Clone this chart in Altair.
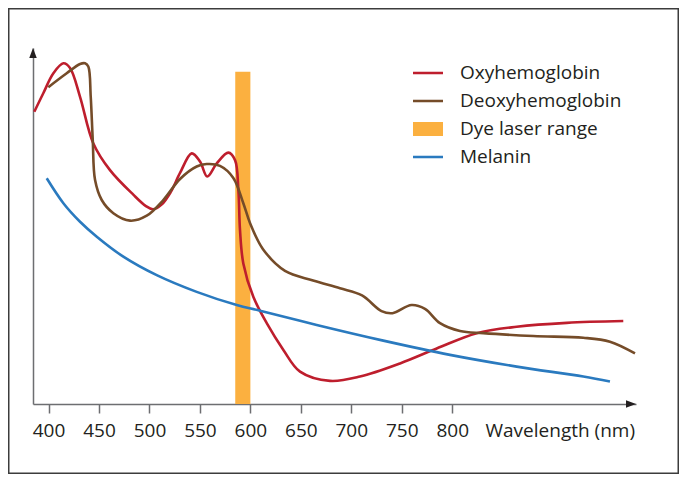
import altair as alt
import pandas as pd

# ---- data (relative absorbance, 0-100) ----
oxy_wl = [385.9, 394.8, 404.8, 414.7, 421.3, 431.2, 444.4, 460.9, 484.0, 496.5, 503.5,
          512.0, 521.0, 530.3, 541.9, 550.1, 557.3, 566.7, 578.2, 584.8, 588.1, 589.7,
          593.0, 602.9, 616.2, 632.7, 649.2, 678.9, 708.6, 748.3, 784.6, 824.3, 863.9,
          913.5, 969.5]
oxy_val = [82.1, 87.3, 92.9, 95.7, 94.4, 86.3, 73.2, 65.7, 58.8, 55.6, 54.7,
           56.0, 59.5, 64.9, 70.4, 68.1, 63.9, 67.6, 70.6, 68.5, 60.1, 48.9,
           39.5, 30.1, 22.7, 15.2, 9.1, 6.5, 7.7, 11.4, 15.6, 19.9, 21.7,
           22.8, 23.3]

deoxy_wl = [399.8, 418.0, 431.2, 436.2, 439.4, 441.8, 443.8, 446.1, 452.7, 464.2, 480.8,
            497.3, 513.7, 530.3, 546.8, 556.7, 569.9, 583.1, 593.0, 599.7, 612.5, 634.3,
            662.1, 688.8, 710.6, 729.9, 740.8, 759.7, 773.0, 787.9, 807.7, 830.8, 880.4,
            929.9, 956.3, 981.1]
deoxy_val = [89.0, 92.9, 95.5, 95.7, 94.8, 86.3, 74.2, 62.9, 57.3, 53.6, 51.5,
             52.9, 57.3, 63.2, 66.7, 67.4, 66.9, 63.5, 56.4, 50.8, 43.5, 37.4,
             34.7, 32.5, 30.5, 26.1, 25.5, 27.8, 26.7, 22.7, 20.5, 19.9, 19.1,
             18.6, 17.5, 14.2]

melanin_wl = [398.2, 414.7, 431.2, 447.8, 474.1, 507.2, 546.8, 586.5, 609.6, 665.7,
              731.7, 797.8, 863.9, 929.9, 956.3]
melanin_val = [63.4, 56.4, 51.2, 47.0, 41.4, 36.2, 31.5, 27.8, 26.2, 22.2,
               17.8, 13.8, 10.5, 7.7, 6.3]

dye_start = [585]
dye_end = [600]
dye_top = [93.3]

series_names = ["Oxyhemoglobin", "Deoxyhemoglobin", "Dye laser range", "Melanin"]
series_colors = ["#be1e2d", "#754c29", "#fbb040", "#2a7abf"]
x_ticks = [400, 450, 500, 550, 600, 650, 700, 750, 800]
x_title = "Wavelength (nm)"

FONT = "Open Sans"
AXIS_GRAY = "#6d6e71"
TEXT = "#231f20"
W, H = 603, 356

lines_df = pd.concat([
    pd.DataFrame({"wl": oxy_wl, "val": oxy_val, "series": series_names[0], "ord": 3}),
    pd.DataFrame({"wl": deoxy_wl, "val": deoxy_val, "series": series_names[1], "ord": 2}),
    pd.DataFrame({"wl": melanin_wl, "val": melanin_val, "series": series_names[3], "ord": 1}),
])
dye_df = pd.DataFrame({"start": dye_start, "end": dye_end, "top": dye_top,
                       "base": [0], "series": [series_names[2]]})
legend_df = pd.DataFrame({"series": series_names})
one = pd.DataFrame({"k": [0]})

color_scale = alt.Scale(domain=series_names, range=series_colors)
line_path = "M-1.07,-0.09H1.07V0.09H-1.07Z"
rect_path = "M-1.07,-0.5H1.07V0.5H-1.07Z"
shape_scale = alt.Scale(domain=series_names,
                        range=[line_path, line_path, rect_path, line_path])

xscale = alt.Scale(domain=[384.6, 982.1], nice=False, zero=False)
yscale = alt.Scale(domain=[0, 100], nice=False, zero=True)

x_axis = alt.Axis(values=x_ticks, title=x_title, grid=False,
                  domainColor=AXIS_GRAY, domainWidth=1.5,
                  tickColor=AXIS_GRAY, tickWidth=1.5, tickSize=9,
                  labelFont=FONT, labelFontSize=19, labelColor=TEXT,
                  labelBaseline="alphabetic", labelPadding=23, labelFlush=False,
                  titleFont=FONT, titleFontSize=19, titleFontWeight="normal",
                  titleColor=TEXT, titleAlign="left", titleBaseline="alphabetic",
                  titleX=452, titleY=32, titleAnchor="start")
y_axis = alt.Axis(ticks=False, labels=False, title=None, grid=False,
                  domainColor=AXIS_GRAY, domainWidth=1.5)

bar = alt.Chart(dye_df).mark_rect().encode(
    x=alt.X("start:Q", scale=xscale, axis=x_axis),
    x2="end:Q",
    y=alt.Y("top:Q", scale=yscale, axis=y_axis),
    y2="base:Q",
    color=alt.Color("series:N", scale=color_scale, legend=None),
)

lines = alt.Chart(lines_df).mark_line(interpolate="catmull-rom", strokeWidth=2.6).encode(
    x=alt.X("wl:Q", scale=xscale, axis=x_axis),
    y=alt.Y("val:Q", scale=yscale, axis=y_axis),
    color=alt.Color("series:N", scale=color_scale, legend=None),
    order=alt.Order("ord:Q"),
    detail="series:N",
)

legend_kw = dict(orient="none", legendX=381, legendY=11, title=None,
                 labelFont=FONT, labelFontSize=19, labelColor=TEXT, labelLimit=0,
                 symbolSize=784, symbolStrokeWidth=0, symbolOpacity=1,
                 rowPadding=4, labelOffset=18, padding=0)
legend_layer = alt.Chart(legend_df).mark_point(filled=True, opacity=0).encode(
    color=alt.Color("series:N", scale=color_scale, legend=alt.Legend(**legend_kw)),
    shape=alt.Shape("series:N", scale=shape_scale, legend=alt.Legend(**legend_kw)),
)

y_arrow = alt.Chart(one).mark_point(
    shape="M0,-1L0.75,1L-0.75,1Z", filled=True, size=100, color="#231f20", opacity=1
).encode(x=alt.value(0), y=alt.value(5))
x_arrow = alt.Chart(one).mark_point(
    shape="M1,0L-1,0.75L-1,-0.75Z", filled=True, size=100, color="#231f20", opacity=1
).encode(x=alt.value(W - 5), y=alt.value(H))

frame = alt.Chart(one).mark_rect(fillOpacity=0, stroke="#3c3c3c", strokeWidth=1.5).encode(
    x=alt.value(-24.25), x2=alt.value(645.25), y=alt.value(-39.25), y2=alt.value(425.25)
)

chart = alt.layer(frame, bar, lines, legend_layer, y_arrow, x_arrow).resolve_scale(
    color="independent", shape="independent"
).resolve_legend(color="independent", shape="independent").properties(
    width=W, height=H,
    padding={"left": 25, "top": 40, "right": 43, "bottom": 70},
    autosize=alt.AutoSizeParams(type="none"),
    background="white",
).configure_view(stroke=None)

chart.save("out.html", embed_options={"renderer": "svg", "actions": False})
